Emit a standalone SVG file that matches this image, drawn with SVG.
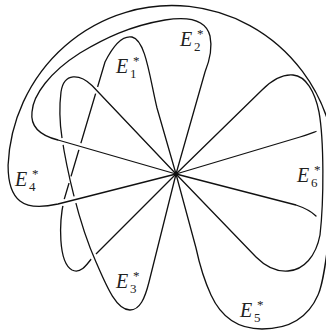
<svg xmlns="http://www.w3.org/2000/svg" width="326" height="330" viewBox="0 0 326 330">
<style>
.c{fill:none;stroke:#111;stroke-width:1.3;stroke-linejoin:round;stroke-linecap:round}
.E{font-family:"Liberation Serif",serif;font-style:italic;font-size:20px;fill:#222}
.s{font-family:"Liberation Serif",serif;font-size:13px;fill:#222}
</style>
<defs>
<mask id="mQ" maskUnits="userSpaceOnUse" x="0" y="0" width="326" height="330">
<rect x="0" y="0" width="326" height="330" fill="#fff"/>
<circle cx="96.6" cy="90.3" r="3.5" fill="#000"/>
<circle cx="79.9" cy="146.5" r="3.5" fill="#000"/>
<circle cx="70" cy="179.8" r="3.5" fill="#000"/>
<circle cx="63.4" cy="202.4" r="3.5" fill="#000"/>
<circle cx="93.5" cy="256.5" r="3.5" fill="#000"/>
</mask>
<mask id="mP" maskUnits="userSpaceOnUse" x="0" y="0" width="326" height="330">
<rect x="0" y="0" width="326" height="330" fill="#fff"/>
<circle cx="62.4" cy="141.4" r="3.5" fill="#000"/>
<circle cx="74.9" cy="199.8" r="3.5" fill="#000"/>
</mask>
</defs>
<rect width="326" height="330" fill="#fff"/>
<g id="connectors">
<path id="loop1" class="c" mask="url(#mQ)" d="M176,174 L157,108 C150,80 146,40 132,37 C121,35 112,48 105,62 L64,200 C59,222 58,262 72,270 C80,274 86,266 92,258 L176,174"/>
<path id="loop3" class="c" mask="url(#mP)" d="M176,174 L92,85.5 C80,74 64,72 61,92 C59,108 60,125 62,138 C66,165 78,222 96,262 C106,285 116,310 130,310 C140,310 145,298 149,282 L176,174"/>
<path id="loop2" class="c" d="M176,174 L58,140 C42,136 30,128 32,112 C33,95 50,72 80,53 C105,38 130,26 165,20 C190,16 206,20 210,36 C213,50 209,62 205,72 L176,174"/>
<path id="loop4" class="c" d="M176,174 L58,204 C45,207 30,209 20,201 C11,194 8,180 8.1,165 A164,167 0 1 1 333.7,200 C329.6,224.7 326,278 318,295 C308,318 288,329 262,329 C240,329 222,319 211,295 C205,282 199,262 196,248 L176,174"/>
<path id="loop6" class="c" d="M176,174 L262,90 C272,80 282,74 293,75 C306,76 315,92 319,112 C324,140 324,200 320,235 C316,256 304,270 288,271 C275,272 264,265 256,257 L176,174"/>
<path id="line6a" class="c" d="M176,174 L300,137 C307,135 312,133 316,131.5"/>
<path id="line6b" class="c" d="M176,174 L296,205 C305,208 312,212 316,216"/>
</g>
<g id="E1"><text class="E" x="116" y="73">E</text><text class="s" x="130" y="78">1</text><text class="s" x="133" y="65">*</text></g>
<g id="E2"><text class="E" x="180" y="46">E</text><text class="s" x="194" y="51">2</text><text class="s" x="197" y="38">*</text></g>
<g id="E3"><text class="E" x="116" y="288">E</text><text class="s" x="130" y="293">3</text><text class="s" x="133" y="280">*</text></g>
<g id="E4"><text class="E" x="15" y="186">E</text><text class="s" x="29" y="191">4</text><text class="s" x="32" y="178">*</text></g>
<g id="E5"><text class="E" x="240" y="317">E</text><text class="s" x="254" y="322">5</text><text class="s" x="257" y="309">*</text></g>
<g id="E6"><text class="E" x="297" y="182">E</text><text class="s" x="311" y="187">6</text><text class="s" x="314" y="174">*</text></g>
</svg>
